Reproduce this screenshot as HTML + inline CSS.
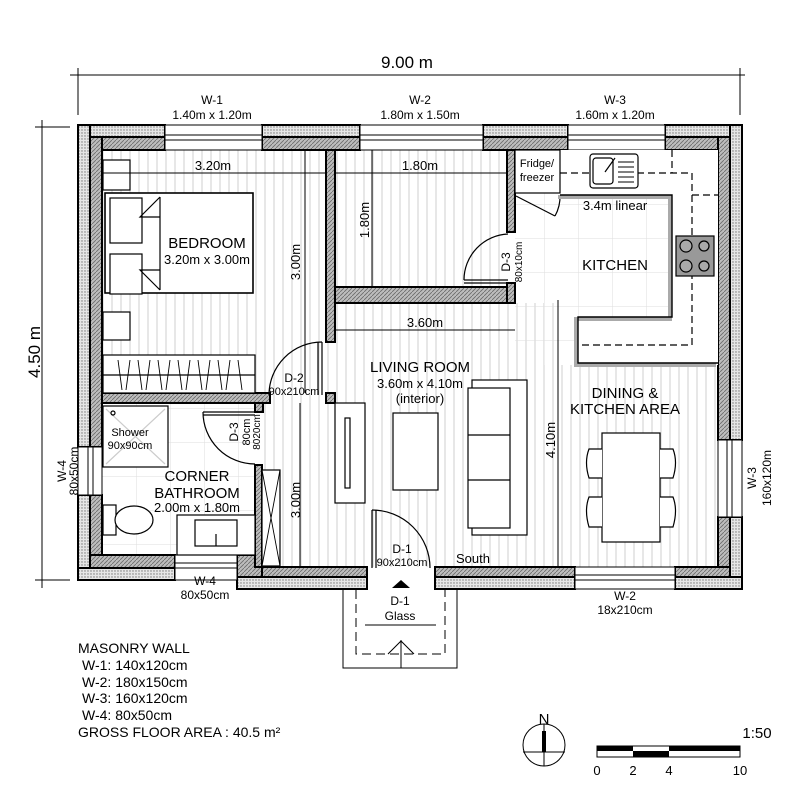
<!DOCTYPE html>
<html><head><meta charset="utf-8"><style>
html,body{margin:0;padding:0;background:#fff;}
svg{display:block;font-family:"Liberation Sans",Arial,sans-serif;}
</style></head><body>
<svg width="800" height="800" viewBox="0 0 800 800" xmlns="http://www.w3.org/2000/svg">
<defs>
<pattern id="str" width="9" height="10" patternUnits="userSpaceOnUse"><line x1="4" y1="0" x2="4" y2="10" stroke="#cfcfcf" stroke-width="1"/></pattern>
<pattern id="tile" width="34" height="34" patternUnits="userSpaceOnUse"><path d="M0 0H34M0 0V34" stroke="#dedede" stroke-width="1" fill="none"/></pattern>
<pattern id="hat" width="4" height="4" patternUnits="userSpaceOnUse"><rect width="4" height="4" fill="#bdbdbd"/><path d="M0 4L4 0" stroke="#6a6a6a" stroke-width="0.8"/></pattern>
<pattern id="stp" width="3" height="3" patternUnits="userSpaceOnUse"><rect width="3" height="3" fill="#e6e6e6"/><circle cx="1" cy="1" r="0.7" fill="#777"/></pattern>
</defs>
<rect width="800" height="800" fill="#fff"/>

<!-- floors -->
<rect x="102" y="150" width="224" height="243" fill="url(#str)"/>
<rect x="335" y="150" width="172" height="137" fill="url(#str)"/>
<rect x="262" y="303" width="296" height="264" fill="url(#str)"/>
<rect x="262" y="403" width="64" height="164" fill="url(#str)"/>
<rect x="558" y="365" width="160" height="202" fill="url(#str)"/>
<rect x="515" y="150" width="203" height="215" fill="url(#tile)"/>
<rect x="102" y="403" width="153" height="152" fill="url(#tile)"/>

<!-- exterior walls -->
<g stroke="#000" stroke-width="2">
<rect x="78" y="125" width="87" height="12" fill="url(#stp)"/><rect x="90" y="137" width="75" height="13" fill="url(#hat)"/>
<rect x="262" y="125" width="98" height="12" fill="url(#stp)"/><rect x="262" y="137" width="98" height="13" fill="url(#hat)"/>
<rect x="483" y="125" width="85" height="12" fill="url(#stp)"/><rect x="483" y="137" width="85" height="13" fill="url(#hat)"/>
<rect x="665" y="125" width="77" height="12" fill="url(#stp)"/><rect x="665" y="137" width="65" height="13" fill="url(#hat)"/>
<rect x="78" y="125" width="12" height="322" fill="url(#stp)"/><rect x="90" y="137" width="12" height="310" fill="url(#hat)"/>
<rect x="78" y="495" width="12" height="85" fill="url(#stp)"/><rect x="90" y="495" width="12" height="60" fill="url(#hat)"/>
<rect x="730" y="125" width="12" height="315" fill="url(#stp)"/><rect x="718" y="137" width="12" height="303" fill="url(#hat)"/>
<rect x="730" y="517" width="12" height="72" fill="url(#stp)"/><rect x="718" y="517" width="12" height="50" fill="url(#hat)"/>
<rect x="78" y="568" width="97" height="12" fill="url(#stp)"/><rect x="90" y="555" width="85" height="13" fill="url(#hat)"/>
<rect x="237" y="577" width="130" height="12" fill="url(#stp)"/><rect x="237" y="555" width="25" height="22" fill="url(#hat)"/><rect x="262" y="567" width="105" height="10" fill="url(#hat)"/>
<rect x="435" y="577" width="140" height="12" fill="url(#stp)"/><rect x="435" y="567" width="140" height="10" fill="url(#hat)"/>
<rect x="675" y="577" width="67" height="12" fill="url(#stp)"/><rect x="675" y="567" width="55" height="10" fill="url(#hat)"/>
</g>
<!-- windows -->
<g stroke="#000" stroke-width="1" fill="#fff">
<rect x="165" y="125" width="97" height="25"/><line x1="165" y1="135" x2="262" y2="135"/><line x1="165" y1="140" x2="262" y2="140"/>
<rect x="360" y="125" width="123" height="25"/><line x1="360" y1="135" x2="483" y2="135"/><line x1="360" y1="140" x2="483" y2="140"/>
<rect x="568" y="125" width="97" height="25"/><line x1="568" y1="135" x2="665" y2="135"/><line x1="568" y1="140" x2="665" y2="140"/>
<rect x="78" y="447" width="24" height="48"/><line x1="88" y1="447" x2="88" y2="495"/><line x1="93" y1="447" x2="93" y2="495"/>
<rect x="718" y="440" width="24" height="77"/><line x1="727" y1="440" x2="727" y2="517"/><line x1="732" y1="440" x2="732" y2="517"/>
<rect x="175" y="555" width="62" height="25"/><line x1="175" y1="563" x2="237" y2="563"/><line x1="175" y1="568" x2="237" y2="568"/>
<rect x="575" y="567" width="100" height="22"/><line x1="575" y1="575" x2="675" y2="575"/><line x1="575" y1="580" x2="675" y2="580"/>
</g>

<!-- interior walls -->
<g stroke="#000" stroke-width="2" fill="url(#hat)">
<rect x="326" y="150" width="9" height="192"/>
<rect x="326" y="393" width="9" height="10"/>
<rect x="102" y="393" width="168" height="10"/>
<rect x="335" y="287" width="180" height="16"/>
<rect x="507" y="150" width="8" height="82"/>
<rect x="507" y="283" width="8" height="20"/>
<rect x="255" y="465" width="7" height="102"/>
<rect x="255" y="403" width="8" height="9"/>
</g>

<!-- doors -->
<g stroke="#000" stroke-width="1.2" fill="none">
<path d="M322 342 A53 53 0 0 0 269 395"/><line x1="322" y1="342" x2="322" y2="395"/><line x1="318" y1="342" x2="318" y2="395"/>
<path d="M508 234 A46 46 0 0 0 464 280"/><line x1="464" y1="280" x2="508" y2="280"/><line x1="464" y1="283" x2="508" y2="283"/>
<path d="M203 412 A52 52 0 0 0 255 464"/><line x1="203" y1="412" x2="255" y2="412"/><line x1="203" y1="415" x2="255" y2="415"/>
<path d="M372 510 A58 58 0 0 1 430 568"/><line x1="372" y1="510" x2="372" y2="568"/><line x1="376" y1="510" x2="376" y2="568"/>
<line x1="516" y1="196" x2="555" y2="216"/><path d="M555 216 A40 40 0 0 0 560 195"/>
</g>

<!-- bedroom furniture -->
<g stroke="#000" stroke-width="1.2" fill="#fff">
<rect x="103" y="160" width="27" height="30"/>
<rect x="103" y="312" width="27" height="28"/>
<rect x="105" y="193" width="148" height="100" stroke-width="1.6"/>
<rect x="110" y="198" width="32" height="45"/><rect x="110" y="254" width="32" height="40"/>
<path d="M160 197 L160 290 M160 197 L140 217 L160 217 M160 290 L140 270 L160 270" fill="none"/>
<rect x="103" y="355" width="152" height="38"/>
<line x1="103" y1="375" x2="255" y2="375"/>
<path d="M118 360 L122 390 M130 360 L126 390 M138 360 L142 390 M150 360 L146 390 M158 360 L162 390 M170 360 L166 390 M178 360 L182 390 M190 360 L186 390 M198 360 L202 390 M210 360 L206 390 M218 360 L222 390 M230 360 L226 390 M238 360 L242 390" fill="none" stroke-width="0.9"/>
</g>

<!-- bathroom furniture -->
<g stroke="#000" stroke-width="1.2" fill="#fff">
<rect x="103" y="406" width="65" height="61"/>
<path d="M106 409 L165 464 M165 409 L106 464" stroke="#ccc" fill="none"/>
<circle cx="113" cy="413" r="2"/>
<rect x="103" y="505" width="13" height="30"/>
<ellipse cx="134" cy="520" rx="19" ry="14"/>
<rect x="177" y="515" width="78" height="40"/>
<rect x="195" y="520" width="42" height="26"/>
<line x1="216" y1="534" x2="216" y2="546"/>
<rect x="262" y="470" width="18" height="96"/>
<path d="M262 470 L280 566 M280 470 L262 566" fill="none" stroke-width="0.9"/>
</g>

<!-- kitchen -->
<rect x="560" y="150" width="158" height="45" fill="#fff"/>
<rect x="672" y="150" width="46" height="215" fill="#fff"/>
<rect x="578" y="317" width="140" height="46" fill="#fff"/>
<g stroke="#000" stroke-width="1.2">
<rect x="515" y="150" width="45" height="43" fill="#fff"/>
<path d="M560 195 H672 V317 H578 V363 H718" fill="none" stroke="#aaa" stroke-width="4" transform="translate(-2 2)"/>
<path d="M560 195 H672 V317 H578 V363 H718" fill="none" stroke-width="1.4"/>
<path d="M560 173 H692 V345 H578" fill="none" stroke-dasharray="7 4"/>
<path d="M692 195 H718 M672 150 V173" fill="none" stroke-dasharray="7 4"/>
<rect x="590" y="154" width="48" height="34" rx="3" fill="#fff"/>
<rect x="593" y="158" width="20" height="26" rx="3" fill="#fff"/>
<path d="M618 162h16M618 167h16M618 172h16M618 177h16M618 182h16" stroke-width="1"/>
<line x1="605" y1="172" x2="615" y2="158"/>
<rect x="676" y="236" width="38" height="40" fill="#999"/>
<circle cx="686" cy="246" r="6" fill="#aaa"/><circle cx="704" cy="246" r="5" fill="#aaa"/>
<circle cx="686" cy="266" r="6" fill="#aaa"/><circle cx="704" cy="266" r="5" fill="#aaa"/>
</g>

<!-- living / dining furniture -->
<g stroke="#000" stroke-width="1.2" fill="#fff">
<rect x="335" y="403" width="30" height="100"/>
<rect x="345" y="418" width="5" height="70"/>
<rect x="393" y="413" width="45" height="77"/>
<rect x="472" y="380" width="55" height="155"/>
<rect x="468" y="388" width="42" height="140"/>
<line x1="468" y1="435" x2="510" y2="435"/><line x1="468" y1="480" x2="510" y2="480"/>
<line x1="558" y1="300" x2="558" y2="567" stroke-width="1"/>
<rect x="602" y="433" width="58" height="109"/>
<path d="M602 449 H589 Q584 462 589 478 H602 M602 497 H589 Q584 510 589 527 H602 M660 449 H673 Q678 462 673 478 H660 M660 497 H673 Q678 510 673 527 H660"/>
</g>

<!-- porch -->
<g stroke="#000" stroke-width="1" fill="none">
<path d="M343 589 V668 H457 V589"/>
<path d="M356 590 V654 H445 V590" stroke-dasharray="9 5"/>
<line x1="401" y1="640" x2="401" y2="668"/>
<path d="M388 654 L401 641 L414 654"/>
<line x1="365" y1="625" x2="436" y2="625"/>
</g>
<path d="M392 588 L401 580 L410 588 Z" fill="#000"/>

<!-- dimension lines -->
<g stroke="#000" stroke-width="1" fill="none">
<line x1="70" y1="75" x2="745" y2="75"/><line x1="78" y1="68" x2="78" y2="115"/><line x1="740" y1="68" x2="740" y2="115"/>
<line x1="35" y1="127" x2="70" y2="127"/><line x1="35" y1="580" x2="70" y2="580"/><line x1="42" y1="120" x2="42" y2="588"/>
<line x1="102" y1="173" x2="326" y2="173"/>
<line x1="335" y1="173" x2="507" y2="173"/>
<line x1="305" y1="150" x2="305" y2="393"/>
<line x1="372" y1="150" x2="372" y2="287"/>
<line x1="335" y1="330" x2="515" y2="330"/>
<line x1="300" y1="403" x2="300" y2="567"/>
</g>

<!-- text -->
<g fill="#000" text-anchor="middle" font-size="12">
<text x="407" y="68" font-size="17">9.00 m</text>
<text x="212" y="104">W-1</text><text x="212" y="119">1.40m x 1.20m</text>
<text x="420" y="104">W-2</text><text x="420" y="119">1.80m x 1.50m</text>
<text x="615" y="104">W-3</text><text x="615" y="119">1.60m x 1.20m</text>
<text transform="translate(40,352) rotate(-90)" font-size="17">4.50 m</text>
<text transform="translate(66,471) rotate(-90)">W-4</text><text transform="translate(78,471) rotate(-90)">80x50cm</text>
<text transform="translate(756,478) rotate(-90)">W-3</text><text transform="translate(771,478) rotate(-90)">160x120m</text>
<text x="213" y="170" font-size="13">3.20m</text>
<text x="420" y="170" font-size="13">1.80m</text>
<text transform="translate(300,262) rotate(-90)" font-size="13">3.00m</text>
<text transform="translate(369,220) rotate(-90)" font-size="13">1.80m</text>
<text x="207" y="248" font-size="15">BEDROOM</text><text x="207" y="264" font-size="13">3.20m x 3.00m</text>
<text x="537" y="167" font-size="11">Fridge/</text><text x="537" y="181" font-size="11">freezer</text>
<text x="615" y="210" font-size="13">3.4m linear</text>
<text x="615" y="270" font-size="15">KITCHEN</text>
<text transform="translate(510,262) rotate(-90)" font-size="12">D-3</text><text transform="translate(522,262) rotate(-90)" font-size="10">80x10cm</text>
<text x="425" y="327" font-size="13">3.60m</text>
<text x="420" y="372" font-size="15">LIVING ROOM</text><text x="420" y="388" font-size="13">3.60m x 4.10m</text><text x="420" y="403" font-size="13">(interior)</text>
<text x="625" y="398" font-size="15">DINING &amp;</text><text x="625" y="414" font-size="15">KITCHEN AREA</text>
<text transform="translate(555,440) rotate(-90)" font-size="13">4.10m</text>
<text x="294" y="382" font-size="12">D-2</text><text x="294" y="395" font-size="11">90x210cm</text>
<text x="130" y="436" font-size="11">Shower</text><text x="130" y="449" font-size="11">90x90cm</text>
<text transform="translate(238,432) rotate(-90)" font-size="12">D-3</text><text transform="translate(250,432) rotate(-90)" font-size="11">80cm</text><text transform="translate(260,432) rotate(-90)" font-size="10">8020cm</text>
<text x="197" y="481" font-size="15">CORNER</text><text x="197" y="498" font-size="15">BATHROOM</text><text x="197" y="512" font-size="13">2.00m x 1.80m</text>
<text transform="translate(300,500) rotate(-90)" font-size="13">3.00m</text>
<text x="402" y="553" font-size="12">D-1</text><text x="402" y="566" font-size="11">90x210cm</text>
<text x="473" y="563" font-size="13">South</text>
<text x="205" y="585" font-size="12">W-4</text><text x="205" y="599" font-size="12">80x50cm</text>
<text x="400" y="605" font-size="12">D-1</text><text x="400" y="620" font-size="12">Glass</text>
<text x="625" y="600" font-size="12">W-2</text><text x="625" y="614" font-size="12">18x210cm</text>
</g>
<g fill="#000" font-size="14">
<text x="78" y="653">MASONRY WALL</text>
<text x="82" y="670">W-1: 140x120cm</text>
<text x="82" y="687">W-2: 180x150cm</text>
<text x="82" y="703">W-3: 160x120cm</text>
<text x="82" y="720">W-4: 80x50cm</text>
<text x="78" y="737">GROSS FLOOR AREA : 40.5 m²</text>
</g>

<!-- compass & scale -->
<g stroke="#000" stroke-width="1" fill="none">
<circle cx="544" cy="745" r="21"/><line x1="523" y1="752" x2="565" y2="752"/><line x1="544" y1="724" x2="544" y2="766"/>
</g>
<rect x="542" y="731" width="4" height="21" fill="#000"/>
<text x="544" y="724" font-size="15" text-anchor="middle">N</text>
<rect x="597" y="746" width="143" height="11" fill="#fff" stroke="#000"/>
<rect x="597" y="746" width="36" height="5" fill="#000"/>
<rect x="633" y="751" width="36" height="6" fill="#000"/>
<rect x="669" y="746" width="71" height="5" fill="#000"/>
<g font-size="13" text-anchor="middle"><text x="597" y="775">0</text><text x="633" y="775">2</text><text x="669" y="775">4</text><text x="740" y="775">10</text></g>
<text x="757" y="738" font-size="15" text-anchor="middle">1:50</text>
</svg>
</body></html>
